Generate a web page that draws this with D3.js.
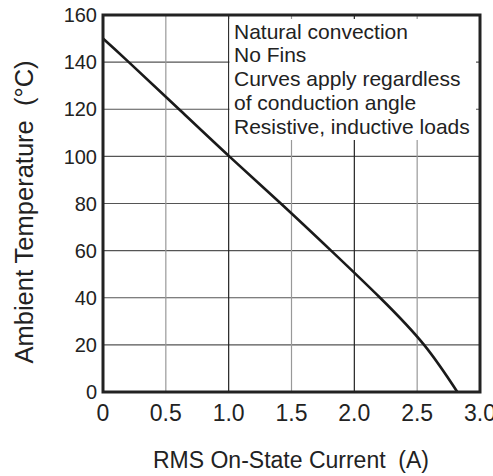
<!DOCTYPE html>
<html>
<head>
<meta charset="utf-8">
<script src="https://cdn.jsdelivr.net/npm/d3@7"></script>
<style>
  body { margin: 0; background: #fff; }
  text { font-family: "Liberation Sans", Arial, sans-serif; fill: #222; }
</style>
</head>
<body>
<div id="chart"></div>
<script>
// derating curve
var currentA = [0, 0.205, 0.605, 1.005, 1.415, 1.815, 2.205, 2.555, 2.82];
var ambientC = [150, 140, 120, 100, 80, 60, 40, 20, 0];

var xTicks = [0, 0.5, 1.0, 1.5, 2.0, 2.5, 3.0];
var xTickLabels = ["0", "0.5", "1.0", "1.5", "2.0", "2.5", "3.0"];
var yTicks = [0, 20, 40, 60, 80, 100, 120, 140, 160];
var noteLines = ["Natural convection", "No Fins", "Curves apply regardless",
                 "of conduction angle", "Resistive, inductive loads"];

var svgWidth = 493;
var svgHeight = 476;
var margin = { top: 15, right: 13, bottom: 84, left: 103 };
var width = svgWidth - margin.left - margin.right;
var height = svgHeight - margin.top - margin.bottom;

var svg = d3.select("#chart")
  .append("svg")
  .attr("width", svgWidth)
  .attr("height", svgHeight);

var chartGroup = svg.append("g")
  .attr("transform", `translate(${margin.left}, ${margin.top})`);

var xLinearScale = d3.scaleLinear().domain([0, 3]).range([0, width]);
var yLinearScale = d3.scaleLinear().domain([0, 160]).range([height, 0]);

// grid lines
chartGroup.selectAll(".hgrid")
  .data(yTicks.slice(1, -1))
  .enter()
  .append("line")
  .attr("x1", 0)
  .attr("x2", width)
  .attr("y1", d => yLinearScale(d))
  .attr("y2", d => yLinearScale(d))
  .attr("stroke", "#555")
  .attr("stroke-width", 1.2);

chartGroup.selectAll(".vgrid")
  .data(xTicks.slice(1, -1))
  .enter()
  .append("line")
  .attr("x1", d => xLinearScale(d))
  .attr("x2", d => xLinearScale(d))
  .attr("y1", 0)
  .attr("y2", height)
  .attr("stroke", d => (d % 1 === 0) ? "#222" : "#999")
  .attr("stroke-width", 1.2);

// white box behind the notes, leaves small tick stubs at the border
var boxX = xLinearScale(1.0) + 0.8;
chartGroup.append("rect")
  .attr("x", boxX)
  .attr("y", 4)
  .attr("width", width - boxX - 4)
  .attr("height", 140 - margin.top - 4)
  .attr("fill", "#fff");

// the curve
var line = d3.line()
  .x((d, i) => xLinearScale(currentA[i]))
  .y((d, i) => yLinearScale(ambientC[i]))
  .curve(d3.curveNatural);

chartGroup.append("path")
  .datum(currentA)
  .attr("d", line)
  .attr("fill", "none")
  .attr("stroke", "#1a1a1a")
  .attr("stroke-width", 2.6);

// frame
chartGroup.append("rect")
  .attr("x", 0)
  .attr("y", 0)
  .attr("width", width)
  .attr("height", height)
  .attr("fill", "none")
  .attr("stroke", "#222")
  .attr("stroke-width", 3);

// tick labels
chartGroup.selectAll(".ylab")
  .data(yTicks)
  .enter()
  .append("text")
  .attr("x", -6)
  .attr("y", d => yLinearScale(d))
  .attr("dy", "0.36em")
  .attr("text-anchor", "end")
  .style("font-size", "20px")
  .text(d => d);

chartGroup.selectAll(".xlab")
  .data(xTicks)
  .enter()
  .append("text")
  .attr("x", d => xLinearScale(d))
  .attr("y", height + 29)
  .attr("text-anchor", "middle")
  .style("font-size", "23px")
  .text((d, i) => xTickLabels[i]);

// notes
chartGroup.selectAll(".note")
  .data(noteLines)
  .enter()
  .append("text")
  .attr("x", 234 - margin.left)
  .attr("y", (d, i) => 38.7 - margin.top + i * 23.7)
  .style("font-size", "21px")
  .text(d => d);

// axis titles
svg.append("text")
  .attr("transform", "translate(33, 212) rotate(-90)")
  .attr("text-anchor", "middle")
  .style("font-size", "25.5px")
  .text("Ambient Temperature\u00a0 (\u00b0C)");

svg.append("text")
  .attr("x", 291)
  .attr("y", 468)
  .attr("text-anchor", "middle")
  .style("font-size", "23px")
  .text("RMS On-State Current\u00a0 (A)");
</script>
</body>
</html>
